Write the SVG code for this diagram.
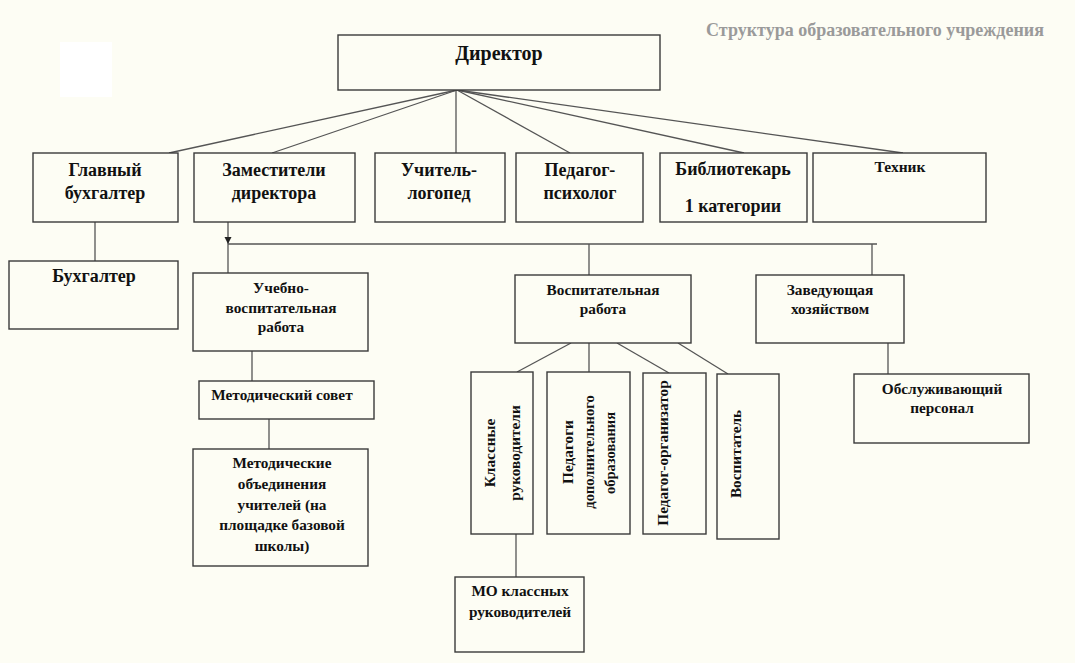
<svg xmlns="http://www.w3.org/2000/svg" width="1075" height="663" viewBox="0 0 1075 663">
<style>
.bg{fill:#fdfdf4}
.box{fill:#fdfdf4;stroke:#3a3a3a;stroke-width:1.4}
.con{stroke:#555;stroke-width:1.3;fill:none}
text{font-family:"Liberation Serif","Times New Roman",serif;font-weight:bold;fill:#111;text-anchor:middle}
.t20{font-size:20px}
.t18{font-size:18px}
.t14{font-size:15.3px}
.t13{font-size:14.5px}
.tt{font-size:15.5px}
.title{font-size:18px;fill:#9a9a9a}
.rot{dominant-baseline:central}
</style>
<defs>
<marker id="arr" markerWidth="8" markerHeight="8" refX="7" refY="4" orient="auto" markerUnits="userSpaceOnUse" viewBox="0 0 8 8">
<path d="M0,0.5 L7,4 L0,7.5 Z" fill="#222"/>
</marker>
</defs>
<rect class="bg" x="0" y="0" width="1075" height="663"/>
<rect x="60" y="42" width="52" height="55" fill="#ffffff"/>
<text class="title" x="875" y="36">Структура образовательного учреждения</text>

<g id="connectors">
<line class="con" x1="457" y1="90" x2="169" y2="153"/>
<line class="con" x1="457" y1="90" x2="272" y2="153"/>
<line class="con" x1="456" y1="90" x2="456" y2="153"/>
<line class="con" x1="457" y1="90" x2="570" y2="153"/>
<line class="con" x1="457" y1="90" x2="744" y2="153"/>
<line class="con" x1="457" y1="90" x2="903" y2="153"/>
<line class="con" x1="95" y1="222" x2="95" y2="261"/>
<line class="con" x1="228" y1="222" x2="228" y2="244" marker-end="url(#arr)"/>
<line class="con" x1="228" y1="244" x2="228" y2="273"/>
<line class="con" x1="228" y1="244" x2="877" y2="244"/>
<line class="con" x1="589" y1="244" x2="589" y2="275"/>
<line class="con" x1="872" y1="244" x2="872" y2="275"/>
<line class="con" x1="252" y1="351" x2="252" y2="381"/>
<line class="con" x1="269" y1="419" x2="269" y2="449"/>
<line class="con" x1="571" y1="343" x2="517" y2="372"/>
<line class="con" x1="589" y1="343" x2="589" y2="372"/>
<line class="con" x1="617" y1="343" x2="669" y2="373"/>
<line class="con" x1="678" y1="343" x2="728" y2="374"/>
<line class="con" x1="516" y1="534" x2="516" y2="577"/>
<line class="con" x1="888" y1="343" x2="888" y2="374"/>
</g>

<g id="director">
<rect class="box" x="338" y="35" width="322" height="55"/>
<text class="t20" x="499" y="60">Директор</text>
</g>
<g id="glavbuh">
<rect class="box" x="33" y="153" width="145" height="69"/>
<text class="t18" x="105" y="176">Главный</text>
<text class="t18" x="105" y="199">бухгалтер</text>
</g>
<g id="zam">
<rect class="box" x="194" y="153" width="161" height="69"/>
<text class="t18" x="274" y="176">Заместители</text>
<text class="t18" x="274" y="199">директора</text>
</g>
<g id="logoped">
<rect class="box" x="375" y="153" width="130" height="69"/>
<text class="t18" x="439" y="176">Учитель-</text>
<text class="t18" x="439" y="199">логопед</text>
</g>
<g id="psiholog">
<rect class="box" x="516" y="153" width="127" height="69"/>
<text class="t18" x="580" y="176">Педагог-</text>
<text class="t18" x="580" y="199">психолог</text>
</g>
<g id="bibl">
<rect class="box" x="660" y="153" width="147" height="69"/>
<text class="t18" x="733" y="175">Библиотекарь</text>
<text class="t18" x="733" y="212">1 категории</text>
</g>
<g id="tehnik">
<rect class="box" x="813" y="153" width="173" height="69"/>
<text class="tt" x="900" y="172">Техник</text>
</g>
<g id="buh">
<rect class="box" x="9" y="261" width="169" height="68"/>
<text class="t18" x="94" y="282">Бухгалтер</text>
</g>
<g id="uvr">
<rect class="box" x="193" y="273" width="175" height="78"/>
<text class="t14" x="281" y="293">Учебно-</text>
<text class="t14" x="281" y="313">воспитательная</text>
<text class="t14" x="281" y="332">работа</text>
</g>
<g id="metsovet">
<rect class="box" x="199" y="381" width="175" height="38"/>
<text class="t14" x="282" y="400">Методический совет</text>
</g>
<g id="metob">
<rect class="box" x="193" y="449" width="175" height="117"/>
<text class="t14" x="282" y="468">Методические</text>
<text class="t14" x="282" y="489">объединения</text>
<text class="t14" x="282" y="510">учителей (на</text>
<text class="t14" x="282" y="530">площадке базовой</text>
<text class="t14" x="282" y="551">школы)</text>
</g>
<g id="vosp">
<rect class="box" x="515" y="275" width="176" height="68"/>
<text class="t14" x="603" y="295">Воспитательная</text>
<text class="t14" x="603" y="314">работа</text>
</g>
<g id="zavhoz">
<rect class="box" x="756" y="275" width="148" height="68"/>
<text class="t14" x="830" y="295">Заведующая</text>
<text class="t14" x="830" y="314">хозяйством</text>
</g>
<g id="obsl">
<rect class="box" x="854" y="374" width="175" height="69"/>
<text class="t14" x="942" y="394">Обслуживающий</text>
<text class="t14" x="942" y="413">персонал</text>
</g>
<g id="klruk">
<rect class="box" x="471" y="372" width="62" height="162"/>
<text class="t14 rot" transform="translate(489,453) rotate(-90)">Классные</text>
<text class="t14 rot" transform="translate(514,453) rotate(-90)">руководители</text>
</g>
<g id="peddop">
<rect class="box" x="547" y="372" width="83" height="162"/>
<text class="t14 rot" transform="translate(567,452) rotate(-90)">Педагоги</text>
<text class="t13 rot" transform="translate(589,452) rotate(-90)">дополнительного</text>
<text class="t13 rot" transform="translate(610,453) rotate(-90)">образования</text>
</g>
<g id="pedorg">
<rect class="box" x="643" y="373" width="63" height="161"/>
<text class="t14 rot" transform="translate(662,453) rotate(-90)">Педагог-организатор</text>
</g>
<g id="vospitatel">
<rect class="box" x="717" y="374" width="62" height="165"/>
<text class="t14 rot" transform="translate(735,454) rotate(-90)">Воспитатель</text>
</g>
<g id="moklruk">
<rect class="box" x="455" y="577" width="129" height="75"/>
<text class="t14" x="520" y="596">МО классных</text>
<text class="t14" x="520" y="617">руководителей</text>
</g>
</svg>
